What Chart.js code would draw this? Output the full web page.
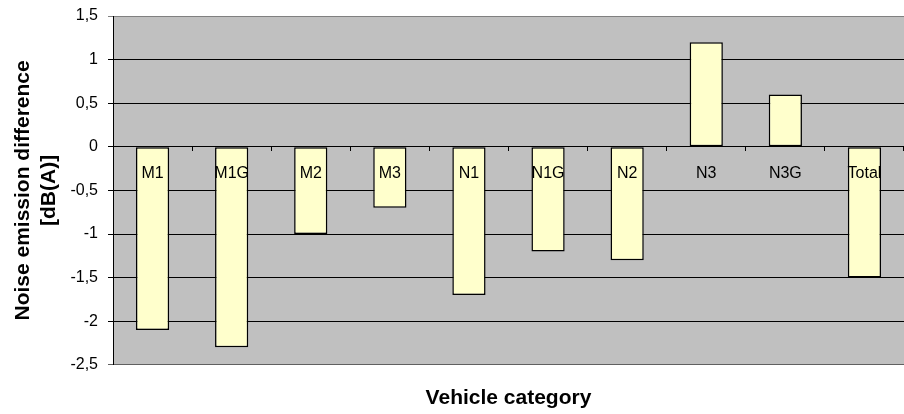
<!DOCTYPE html>
<html lang="en">
<head>
  <meta charset="UTF-8" />
  <title>Noise emission difference by vehicle category</title>
  <script src="https://cdn.jsdelivr.net/npm/chart.js"></script>
  <style>
    body {
      margin: 0;
      background: #fff;
    }
    canvas {
      display: block;
    }
  </style>
</head>
<body>
  <canvas id="chart" width="904" height="414"></canvas>

  <script>
    const categories = ['M1', 'M1G', 'M2', 'M3', 'N1', 'N1G', 'N2', 'N3', 'N3G', 'Total'];
    const differences = [-2.1, -2.3, -1.0, -0.7, -1.7, -1.2, -1.3, 1.2, 0.6, -1.5];
    const yTicks = [-2.5, -2, -1.5, -1, -0.5, 0, 0.5, 1, 1.5];
    const yTitle = ['Noise emission difference', '[dB(A)]'];
    const xTitle = 'Vehicle category';

    const font = "'Liberation Sans', Arial, sans-serif";

    // grey plot area like the old Excel charts
    const plotBackground = {
      id: 'plotBackground',
      beforeDraw(chart) {
        const { ctx, chartArea: a } = chart;
        ctx.save();
        ctx.fillStyle = '#c0c0c0';
        ctx.fillRect(a.left, a.top, a.right - a.left, a.bottom - a.top);
        ctx.restore();
      }
    };

    function gridColor(ctx) {
      const v = ctx.tick && ctx.tick.value;
      if (v === yTicks[yTicks.length - 1]) return '#808080';
      if (v === yTicks[0]) return '#606060';
      return '#000';
    }

    new Chart(document.getElementById('chart'), {
      type: 'bar',
      data: {
        labels: categories,
        datasets: [{
          data: differences,
          backgroundColor: '#ffffcc',
          borderColor: '#000',
          borderWidth: 1.5,
          borderSkipped: false,
          categoryPercentage: 1,
          barPercentage: 0.42
        }]
      },
      options: {
        responsive: false,
        animation: false,
        layout: { padding: { top: 16, right: 0, bottom: 0, left: 0 } },
        scales: {
          x: {
            position: { y: 0 },
            grid: {
              drawOnChartArea: false,
              drawTicks: true,
              tickLength: 4,
              color: '#000'
            },
            border: { display: true, color: '#000', width: 1, z: 1 },
            ticks: {
              z: 1,
              color: '#000',
              padding: 13,
              maxRotation: 0,
              autoSkip: false,
              font: { family: font, size: 16 }
            }
          },
          y: {
            min: yTicks[0],
            max: yTicks[yTicks.length - 1],
            afterBuildTicks(scale) {
              scale.ticks = yTicks.map(v => ({ value: v }));
            },
            afterFit(scale) {
              scale.width = 113;
              scale.paddingTop = 0;
              scale.paddingBottom = 0;
            },
            grid: {
              color: gridColor,
              lineWidth: 1,
              tickLength: 5
            },
            border: { display: true, color: '#000', width: 1 },
            ticks: {
              color: '#000',
              padding: 10,
              font: { family: font, size: 16 },
              callback: v => String(v).replace('.', ',')
            },
            title: {
              display: true,
              text: yTitle,
              color: '#000',
              padding: { top: 10, bottom: 0 },
              font: { family: font, size: 21, weight: 'bold', lineHeight: 1.25 }
            }
          }
        },
        plugins: {
          legend: { display: false },
          tooltip: { enabled: false },
          title: {
            display: true,
            position: 'bottom',
            fullSize: false,
            text: xTitle,
            color: '#000',
            padding: { top: 21, bottom: 3 },
            font: { family: font, size: 21, weight: 'bold', lineHeight: 1.2 }
          }
        }
      },
      plugins: [plotBackground]
    });
  </script>
</body>
</html>
